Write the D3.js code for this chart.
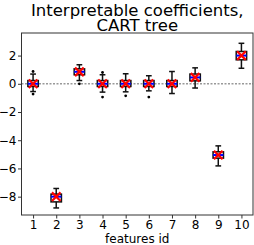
<!DOCTYPE html>
<html>
<head>
<meta charset="utf-8">
<script src="https://cdn.jsdelivr.net/npm/d3@7"></script>
<style>
  body { margin: 0; background: #fff; }
  text { font-family: "DejaVu Sans", sans-serif; fill: #000; }
</style>
</head>
<body>
<div id="chart"></div>
<script>
const features = [1, 2, 3, 4, 5, 6, 7, 8, 9, 10];
const whiskerLow = [-0.55, -8.8, 0.23, -0.59, -0.57, -0.5, -0.69, -0.3, -5.82, 1.1];
const q1 = [-0.19, -8.37, 0.64, -0.19, -0.19, -0.19, -0.19, 0.21, -5.27, 1.7];
const median = [0.0, -8.0, 0.85, 0.0, 0.0, 0.0, 0.0, 0.45, -5.05, 2.0];
const q3 = [0.23, -7.82, 1.06, 0.23, 0.23, 0.23, 0.23, 0.69, -4.82, 2.29];
const whiskerHigh = [0.69, -7.42, 1.35, 0.64, 0.71, 0.57, 0.87, 1.13, -4.4, 2.87];
const means = [0.0, -8.0, 0.85, 0.0, 0.0, 0.0, 0.0, 0.45, -5.05, 2.0];
const fliers = [[0.87, -0.73], [], [0.0], [0.8, -0.94], [-0.85], [-0.94], [], [], [], []];
const yTicks = [2, 0, -2, -4, -6, -8];

const w = 254, h = 245;
const m = {l: 21.5, r: 1, t: 33, b: 30};

const svg = d3.select("#chart").append("svg").attr("width", w).attr("height", h);

const x = d3.scaleLinear().domain([0.5, 10.5]).range([m.l, w - m.r]);
const y = d3.scaleLinear().domain([-9.3, 3.6]).range([h - m.b, m.t]);

const data = features.map((f, i) => ({
  f, lo: whiskerLow[i], q1: q1[i], med: median[i], q3: q3[i], hi: whiskerHigh[i],
  mean: means[i], fl: fliers[i]
}));

// zero reference line
svg.append("line")
  .attr("x1", x(0.5)).attr("x2", x(10.5))
  .attr("y1", y(0)).attr("y2", y(0))
  .attr("stroke", "#999").attr("stroke-width", 1.5)
  .attr("stroke-dasharray", "2,1.5");

const bw = (x(1) - x(0)) * 0.45;
const cw = bw * 0.55;

const g = svg.append("g").selectAll("g").data(data).join("g");

// whiskers
g.append("line")
  .attr("x1", d => x(d.f)).attr("x2", d => x(d.f))
  .attr("y1", d => y(d.hi)).attr("y2", d => y(d.q3))
  .attr("stroke", "#111").attr("stroke-width", 1.5);
g.append("line")
  .attr("x1", d => x(d.f)).attr("x2", d => x(d.f))
  .attr("y1", d => y(d.q1)).attr("y2", d => y(d.lo))
  .attr("stroke", "#111").attr("stroke-width", 1.5);
// caps
g.selectAll(".cap").data(d => [d.lo, d.hi].map(v => ({f: d.f, v}))).join("line")
  .attr("x1", d => x(d.f) - cw / 2).attr("x2", d => x(d.f) + cw / 2)
  .attr("y1", d => y(d.v)).attr("y2", d => y(d.v))
  .attr("stroke", "#111").attr("stroke-width", 1.5);
// box
g.append("rect")
  .attr("x", d => x(d.f) - bw / 2).attr("width", bw)
  .attr("y", d => y(d.q3)).attr("height", d => y(d.q1) - y(d.q3))
  .attr("fill", "#fff").attr("stroke", "#111").attr("stroke-width", 1.5);
// median
g.append("line")
  .attr("x1", d => x(d.f) - bw / 2).attr("x2", d => x(d.f) + bw / 2)
  .attr("y1", d => y(d.med)).attr("y2", d => y(d.med))
  .attr("stroke", "#0000ff").attr("stroke-width", 2);
// fliers
g.selectAll("circle").data(d => d.fl.map(v => ({f: d.f, v}))).join("circle")
  .attr("cx", d => x(d.f)).attr("cy", d => y(d.v)).attr("r", 1.4)
  .attr("fill", "#000");
// mean markers (red x)
const ms = 4.3;
g.append("path")
  .attr("d", d => {
    const cx = x(d.f), cy = y(d.mean);
    return `M${cx - ms},${cy - ms}L${cx + ms},${cy + ms}M${cx - ms},${cy + ms}L${cx + ms},${cy - ms}`;
  })
  .attr("stroke", "#ff0000").attr("stroke-width", 2.2).attr("fill", "none");

// frame
svg.append("rect")
  .attr("x", x(0.5)).attr("y", m.t)
  .attr("width", x(10.5) - x(0.5)).attr("height", h - m.b - m.t)
  .attr("fill", "none").attr("stroke", "#333").attr("stroke-width", 1);

// axes
const xAxis = svg.append("g").attr("transform", `translate(0,${h - m.b})`)
  .call(d3.axisBottom(x).tickValues(features).tickSize(3.5).tickPadding(1.5).tickFormat(d3.format("d")));
const yAxis = svg.append("g").attr("transform", `translate(${m.l},0)`)
  .call(d3.axisLeft(y).tickValues(yTicks).tickSize(3.5).tickPadding(1.5)
    .tickFormat(d => d < 0 ? "\u2212" + Math.abs(d) : d));
[xAxis, yAxis].forEach(a => {
  a.select(".domain").remove();
  a.selectAll("line").attr("stroke", "#333");
  a.selectAll("text").attr("font-size", 12).attr("font-family", "DejaVu Sans").attr("fill", "#000");
});

svg.append("text")
  .attr("x", (x(0.5) + x(10.5)) / 2).attr("y", 242.5)
  .attr("text-anchor", "middle").attr("font-size", 12)
  .text("features id");

const title = svg.append("text")
  .attr("x", (x(0.5) + x(10.5)) / 2)
  .attr("text-anchor", "middle").attr("font-size", 16.5);
title.append("tspan").attr("x", (x(0.5) + x(10.5)) / 2).attr("y", 16).text("Interpretable coefficients,");
title.append("tspan").attr("x", (x(0.5) + x(10.5)) / 2).attr("y", 31).text("CART tree");
</script>
</body>
</html>
